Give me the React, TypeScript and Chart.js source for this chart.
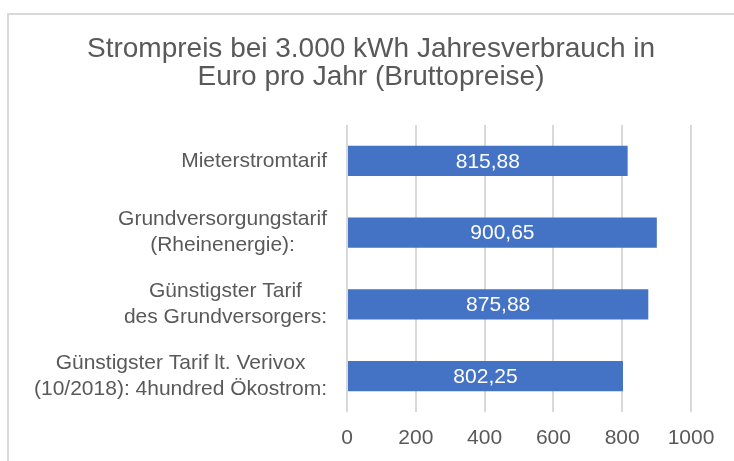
import React, { useEffect, useRef } from "react";
import { Chart, registerables } from "chart.js";

Chart.register(...registerables);

const titleLines = ["Strompreis bei 3.000 kWh Jahresverbrauch in", "Euro pro Jahr (Bruttopreise)"];
const categories: string[][] = [
  ["Mieterstromtarif"],
  ["Grundversorgungstarif", "(Rheinenergie):"],
  ["Günstigster Tarif", "des Grundversorgers:"],
  ["Günstigster Tarif lt. Verivox", "(10/2018): 4hundred Ökostrom:"],
];
const prices = [815.88, 900.65, 875.88, 802.25];
const xTicks = [0, 200, 400, 600, 800, 1000];

const FONT = "'Liberation Sans', Arial, sans-serif";
const TEXT = "#595959";
const BAR = "#4472C4";
const GRID = "#D9D9D9";

const fmt = (v: number) => v.toFixed(2).replace(".", ",");

const framePlugin = {
  id: "frame",
  beforeDraw(chart: any) {
    const ctx = chart.ctx;
    ctx.save();
    ctx.fillStyle = "#ffffff";
    ctx.fillRect(0, 0, chart.width, chart.height);
    ctx.strokeStyle = GRID;
    ctx.lineWidth = 2;
    ctx.strokeRect(8, 14, 2000, 2000);
    ctx.restore();
  },
};

const yLabelPlugin = {
  id: "yLabels",
  afterDraw(chart: any) {
    const scale = chart.scales.y;
    const ctx = chart.ctx;
    ctx.save();
    ctx.font = `21px ${FONT}`;
    ctx.fillStyle = TEXT;
    ctx.textAlign = "center";
    ctx.textBaseline = "middle";
    const lh = 26;
    const right = scale.right - 20;
    (chart.data.labels as string[][]).forEach((lines, i) => {
      const y = scale.getPixelForTick(i);
      const w = Math.max(...lines.map((l) => ctx.measureText(l).width));
      const cx = right - w / 2;
      const y0 = y - ((lines.length - 1) * lh) / 2;
      lines.forEach((l, j) => ctx.fillText(l, cx, y0 + j * lh));
    });
    ctx.restore();
  },
};

const valuePlugin = {
  id: "values",
  afterDatasetsDraw(chart: any) {
    const ctx = chart.ctx;
    const meta = chart.getDatasetMeta(0);
    ctx.save();
    ctx.font = `21px ${FONT}`;
    ctx.fillStyle = "#ffffff";
    ctx.textAlign = "center";
    ctx.textBaseline = "middle";
    meta.data.forEach((bar: any, i: number) => {
      const v = chart.data.datasets[0].data[i] as number;
      ctx.fillText(fmt(v), (bar.x + bar.base) / 2, bar.y + 1);
    });
    ctx.restore();
  },
};

export default function App() {
  const ref = useRef<HTMLCanvasElement>(null);
  useEffect(() => {
    if (!ref.current) return;
    const chart = new Chart(ref.current, {
      type: "bar",
      data: {
        labels: categories as any,
        datasets: [
          {
            data: prices,
            backgroundColor: BAR,
            barPercentage: 0.42,
            categoryPercentage: 1,
          },
        ],
      },
      options: {
        indexAxis: "y",
        responsive: false,
        animation: false,
        layout: { padding: { left: 8, right: 0, top: 0, bottom: 0 } },
        plugins: {
          legend: { display: false },
          tooltip: { enabled: false },
          title: {
            display: true,
            text: titleLines,
            color: TEXT,
            font: { family: FONT, size: 28, weight: "normal", lineHeight: 28 / 28 },
            padding: { top: 35, bottom: 34 },
          },
        },
        scales: {
          x: {
            min: 0,
            max: 1000,
            afterBuildTicks: (s: any) => {
              s.ticks = xTicks.map((v) => ({ value: v }));
            },
            afterFit: (s: any) => {
              s.height = 49;
              s.paddingRight = 43;
            },
            grid: { color: GRID, lineWidth: 2, drawTicks: false },
            border: { display: false },
            ticks: {
              color: TEXT,
              padding: 14,
              font: { family: FONT, size: 21 },
              callback: (v: any) => String(v),
            },
          },
          y: {
            afterFit: (s: any) => {
              s.width = 339;
            },
            grid: { display: false, drawTicks: false },
            border: { display: false },
            ticks: {
              color: "rgba(0,0,0,0)",
              font: { family: FONT, size: 21 },
              padding: 20,
            },
          },
        },
      },
      plugins: [framePlugin, yLabelPlugin, valuePlugin],
    });
    return () => chart.destroy();
  }, []);
  return (
    <div style={{ position: "fixed", left: 0, top: 0, width: 734, height: 461, background: "#fff" }}>
      <canvas ref={ref} width={734} height={461} style={{ display: "block" }} />
    </div>
  );
}
